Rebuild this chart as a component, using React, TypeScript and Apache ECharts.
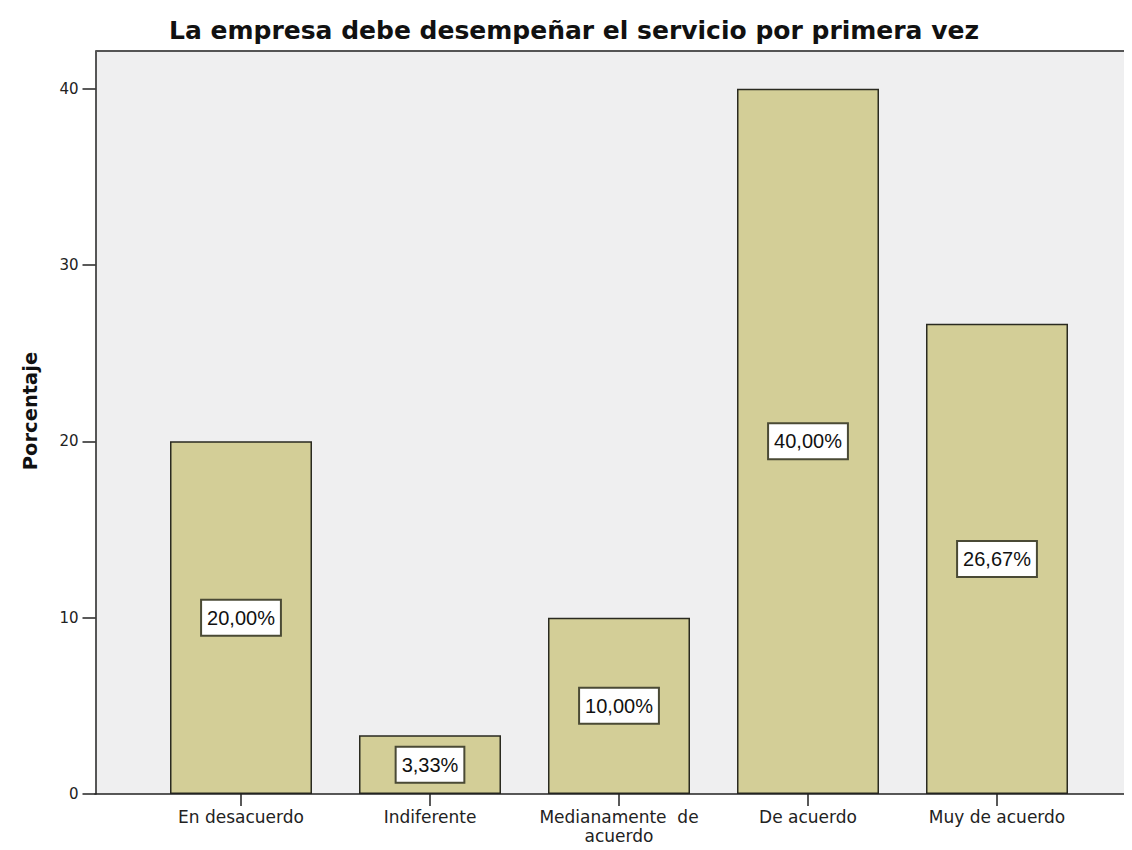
import React, { useEffect, useRef } from "react";
import * as echarts from "echarts";

const categories = [
  "En desacuerdo",
  "Indiferente",
  "Medianamente  de\nacuerdo",
  "De acuerdo",
  "Muy de acuerdo",
];
const percentages = [20.0, 3.33, 10.0, 40.0, 26.67];
const yTicks = [0, 10, 20, 30, 40];
const titleText = "La empresa debe desempeñar el servicio por primera vez";
const yName = "Porcentaje";

const FONT = "'Liberation Sans', Arial, sans-serif";
const WIDE = "'DejaVu Sans', sans-serif";

export default function App() {
  const ref = useRef<HTMLDivElement>(null);
  useEffect(() => {
    if (!ref.current) return;
    const chart = echarts.init(ref.current, undefined, { renderer: "svg" });
    const plotLeft = 95.5;
    const plotTop = 51;
    const plotBottom = 794;
    const gridLeft = 146.5;
    const gridRight = 40.5;
    chart.setOption({
      animation: false,
      backgroundColor: "#ffffff",
      title: {
        text: titleText,
        left: 569,
        top: 13,
        textAlign: "center",
        textStyle: { fontFamily: WIDE, fontSize: 25, fontWeight: "bold", color: "#111" },
      },
      grid: {
        left: gridLeft,
        right: gridRight,
        top: plotTop,
        bottom: 850 - plotBottom,
        containLabel: false,
      },
      xAxis: {
        type: "category",
        data: categories,
        axisLine: { show: false },
        axisTick: { show: true, alignWithLabel: true, length: 12, lineStyle: { color: "#222", width: 1.5 } },
        axisLabel: {
          interval: 0,
          fontFamily: WIDE,
          fontSize: 17,
          color: "#222",
          margin: 13,
          lineHeight: 19,
        },
      },
      yAxis: {
        type: "value",
        min: 0,
        max: 42.14,
        interval: 10,
        offset: gridLeft - plotLeft,
        splitLine: { show: false },
        axisLine: { show: true, lineStyle: { color: "#222", width: 1.5 } },
        axisTick: { show: true, length: 13, customValues: yTicks, lineStyle: { color: "#222", width: 1.5 } },
        axisLabel: {
          customValues: yTicks,
          fontFamily: WIDE,
          fontSize: 15,
          color: "#222",
          margin: 17,
        },
      },
      graphic: [
        {
          type: "rect",
          z: -100,
          shape: { x: plotLeft, y: plotTop, width: 1132 - plotLeft, height: plotBottom - plotTop },
          style: { fill: "#efeff0" },
          silent: true,
        },
        {
          type: "line",
          z: 100,
          shape: { x1: plotLeft, y1: plotTop, x2: 1132, y2: plotTop },
          style: { stroke: "#555", lineWidth: 2 },
          silent: true,
        },
        {
          type: "line",
          z: 100,
          shape: { x1: plotLeft - 1, y1: plotBottom, x2: 1132, y2: plotBottom },
          style: { stroke: "#222", lineWidth: 1.5 },
          silent: true,
        },
        {
          type: "text",
          x: 30,
          y: 411,
          rotation: Math.PI / 2,
          style: {
            text: yName,
            fontFamily: WIDE,
            fontSize: 19.5,
            fontWeight: "bold",
            fill: "#111",
            align: "center",
            verticalAlign: "middle",
          },
          silent: true,
        },
      ],
      series: [
        {
          type: "bar",
          data: percentages,
          barWidth: 142,
          itemStyle: { color: "#d3ce97", borderColor: "#2a2a20", borderWidth: 1.5 },
          label: {
            show: true,
            position: "inside",
            formatter: (p: any) => p.value.toFixed(2).replace(".", ",") + "%",
            fontFamily: FONT,
            fontSize: 20,
            color: "#111",
            backgroundColor: "#ffffff",
            borderColor: "#4a4a35",
            borderWidth: 2,
            padding: [7, 5, 7, 5],
          },
        },
      ],
    });
    return () => chart.dispose();
  }, []);
  return <div ref={ref} style={{ width: 1132, height: 850, margin: -8 }} />;
}
